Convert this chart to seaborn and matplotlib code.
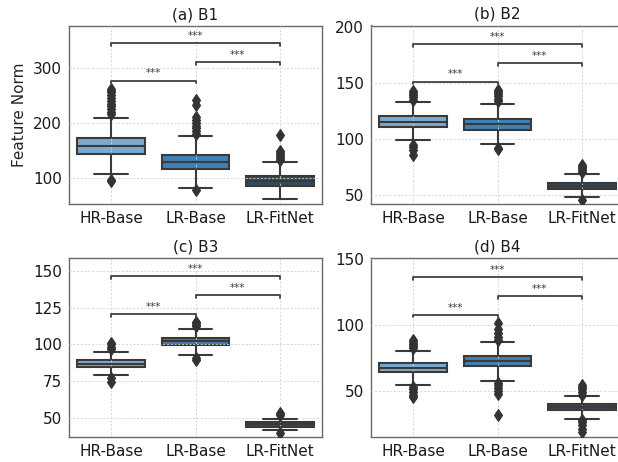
import numpy as np
import pandas as pd
import matplotlib
matplotlib.use("Agg")
import matplotlib.pyplot as plt
import seaborn as sns
from matplotlib.ticker import MultipleLocator

# categories and panels
groups = ['HR-Base', 'LR-Base', 'LR-FitNet']
panels = ['(a) B1', '(b) B2', '(c) B3', '(d) B4']

# box summaries, one row per panel, one value per group
q1 = [[144.5, 117.0, 86.6], [110.9, 107.7, 55.6], [84.8, 99.5, 44.4], [64.2, 68.5, 35.3]]
med = [[158.4, 130.0, 95.0], [115.6, 113.0, 58.5], [87.1, 102.2, 45.8], [67.5, 72.3, 37.5]]
q3 = [[172.3, 142.0, 104.7], [120.3, 117.9, 61.4], [89.4, 104.5, 47.2], [71.3, 76.1, 39.8]]
wlo = [[108.3, 83.0, 62.6], [98.9, 95.6, 48.2], [79.2, 93.2, 42.0], [54.7, 57.4, 29.0]]
whi = [[209.6, 177.0, 130.0], [132.7, 131.5, 69.1], [95.0, 110.8, 49.4], [80.1, 86.9, 46.1]]

# outliers (fliers) per panel / group
fliers = [
    [[97, 95, 216, 220, 225, 230, 235, 240, 245, 250, 255, 258, 262],
     [78, 180, 185, 190, 195, 200, 205, 210, 232, 242],
     [133, 136, 140, 144, 148, 150, 179]],
    [[86, 90, 93, 95, 135, 137, 139, 141, 142.6],
     [91, 92, 134, 136, 138, 140, 142, 144],
     [45.5, 71, 72.5, 74, 75.5, 77]],
    [[74.7, 77, 97, 98.5, 100, 100.7],
     [89.4, 91, 112.5, 113.5, 114.5, 115.3],
     [39.8, 52, 53.3]],
    [[45.3, 47, 49, 51, 53, 82.5, 84, 85.5, 87, 88.7],
     [31.3, 47.9, 50, 52, 54, 56, 88.5, 91, 94, 97, 101.5],
     [18.9, 21, 24, 26, 27.5, 47, 49, 51, 52.5, 54.2]],
]

ylims = [(53.5, 375), (42.3, 201), (37.3, 158.6), (15, 150.5)]
ysteps = [100, 50, 25, 50]
colors = ['#7aaacf', '#4080b5', '#304a62']
pairs = [(0, 1), (1, 2), (0, 2)]

sns.set_style("whitegrid")
plt.rcParams['font.family'] = ['DejaVu Sans']
plt.rcParams['text.color'] = '#1a1a1a'
plt.rcParams['xtick.color'] = '#1a1a1a'
plt.rcParams['ytick.color'] = '#1a1a1a'

fig = plt.figure(figsize=(6.18, 4.62), dpi=100)
W, H = 618, 462
rects = [(69, 26, 322, 204), (371, 25.5, 624, 204),
         (69, 258, 322, 437), (371, 258, 624, 437)]

K = 100
for i, title in enumerate(panels):
    l, t, r, b = rects[i]
    ax = fig.add_axes([l / W, (H - b) / H, (r - l) / W, (b - t) / H])

    rows = []
    for j, g in enumerate(groups):
        vals = ([wlo[i][j]] + [q1[i][j]] * K + [med[i][j]] * K + [q3[i][j]] * K
                + [whi[i][j]] + fliers[i][j])
        rows.append(pd.DataFrame({'group': g, 'value': vals}))
    df = pd.concat(rows, ignore_index=True)

    sns.boxplot(data=df, x='group', y='value', hue='group', order=groups,
                palette=colors, saturation=1, legend=False, width=0.8,
                linecolor='#3a3a3a', linewidth=1.5,
                flierprops=dict(marker='d', markersize=6),
                ax=ax)
    # whiskers, medians and fliers above the grid; fliers filled
    for ln in ax.lines:
        ln.set_zorder(3)
        if ln.get_marker() == 'd':
            ln.set_markerfacecolor('#333333')
            ln.set_markeredgecolor('#333333')
            ln.set_markeredgewidth(0.8)

    ax.set_ylim(*ylims[i])
    ax.set_xlim(-0.5, 2.5)
    ax.yaxis.set_major_locator(MultipleLocator(ysteps[i]))
    ax.set_axisbelow(False)
    ax.grid(True, linestyle=(0, (2.5, 2)), color='#d2d2d2', linewidth=0.6)
    for sp in ax.spines.values():
        sp.set_color('#6a6a6a')
        sp.set_linewidth(1.0)
    ax.tick_params(axis='both', labelsize=11, length=3, color='#6a6a6a',
                   width=0.8, pad=2)
    ax.set_xlabel('')
    ax.set_ylabel('Feature Norm' if i == 0 else '', fontsize=11)
    ax.set_title(title, fontsize=11, pad=5)

    # significance brackets
    span = ylims[i][1] - ylims[i][0]
    top = df['value'].max()
    leg = 0.015 * span
    for lvl, (a, c) in enumerate(pairs):
        y = top + 0.045 * span + lvl * 0.105 * span
        ax.plot([a, a, c, c], [y - leg, y, y, y - leg], color='#404040', lw=1.3,
                zorder=5, clip_on=False)
        ax.annotate('***', xy=((a + c) / 2, y), xytext=(0, 1.5),
                    textcoords='offset points', ha='center', va='bottom',
                    fontsize=7.5, color='#404040')

fig.savefig('out.png', dpi=100)
